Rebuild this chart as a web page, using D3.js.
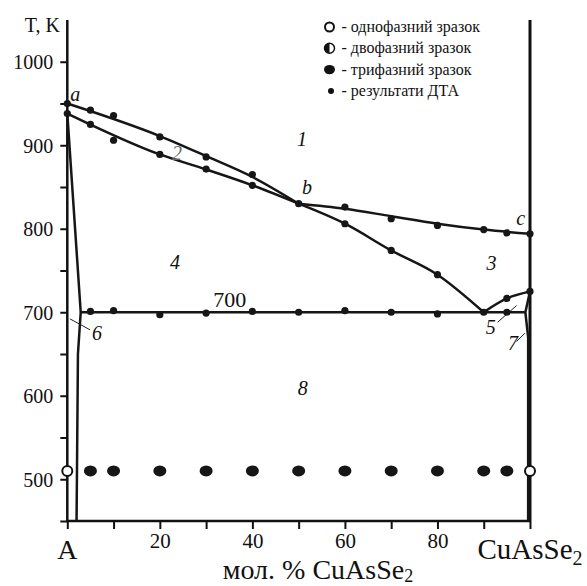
<!DOCTYPE html>
<html>
<head>
<meta charset="utf-8">
<script src="https://cdn.jsdelivr.net/npm/d3@7"></script>
<style>
  body { margin: 0; background: #fff; }
  svg text { font-family: 'Liberation Serif', 'Times New Roman', serif; fill: #111; }
  .axis .domain { display: none; }
  .axis line { stroke: #111; stroke-width: 2; }
</style>
</head>
<body>
<div class="graph"></div>
<script>
// values: [mol. % CuAsSe2, T (K)]
const liquidusAB = [[0, 950], [20, 911], [30, 887], [40, 862], [50, 830]];
const solidusAB = [[0, 938], [20, 889], [30, 871], [40, 852], [50, 830]];
const liquidusBC = [[50, 830], [60, 824], [70, 815], [80, 806], [90, 799], [100, 794]];
const liquidusBE = [[50, 830], [60, 806], [70, 774], [80, 745], [90, 700]];
const liquidusER = [[90, 700], [95, 716.5], [100, 725]];
const eutecticLine = [[2.9, 700], [98.9, 700]];
const solvusLeft = [[0, 938], [2.9, 700], [2.3, 650], [2.0, 450]];
const solvusRight = [[100, 725], [99, 700], [99.6, 670], [99.6, 450]];

const dtaPoints = [
  [0, 950], [5, 942], [10, 935.5], [20, 910], [30, 886], [40, 865],
  [0, 938], [5, 925], [10, 906], [20, 889], [30, 871.5], [40, 852],
  [50, 830], [60, 826], [70, 812], [80, 804], [90, 799], [95, 795], [100, 794],
  [60, 806], [70, 774], [80, 745],
  [95, 716.5], [100, 725],
  [5, 701], [10, 702], [20, 697], [30, 699], [40, 701], [50, 700],
  [60, 702], [70, 700], [80, 698], [90, 700], [95, 700]
];

const sampleT = 510;
const singlePhase = [0, 100];
const threePhase = [5, 10, 20, 30, 40, 50, 60, 70, 80, 90, 95];

const xTicks = d3.range(0, 101, 10);
const xTickLabels = { 20: '20', 40: '40', 60: '60', 80: '80' };
const yTicks = d3.range(450, 1001, 50);
const yTickLabels = [500, 600, 700, 800, 900, 1000];

const regionLabels = [
  { t: 'a', x: 1.7, y: 961 }, { t: 'b', x: 51.8, y: 850 }, { t: 'c', x: 98, y: 813 },
  { t: '1', x: 50.7, y: 908 }, { t: '2', x: 23.7, y: 891, grey: true }, { t: '3', x: 91.7, y: 759 },
  { t: '4', x: 23.3, y: 760 }, { t: '5', x: 91.5, y: 682 }, { t: '6', x: 6.4, y: 675 },
  { t: '7', x: 96.3, y: 663 }, { t: '8', x: 50.9, y: 609 }
];
const leaders = [
  [[0.6, 692], [4.9, 679]],
  [[97.1, 708], [93.0, 688]],
  [[98.9, 675], [97.1, 665]]
];

const legendData = [
  { kind: 'open', label: '- однофазний зразок' },
  { kind: 'half', label: '- двофазний зразок' },
  { kind: 'full', label: '- трифазний зразок' },
  { kind: 'dot', label: '- результати ДТА' }
];

const w = 587;
const h = 586;

const xScale = d3.scaleLinear().domain([0, 100]).range([67.3, 530]);
const yScale = d3.scaleLinear().domain([450, 1050]).range([521, 20]);

const svg = d3.select('.graph')
  .append('svg')
  .attr('width', w)
  .attr('height', h);

// axes
svg.append('g')
  .attr('class', 'axis')
  .attr('transform', `translate(0, ${yScale(450)})`)
  .call(d3.axisBottom(xScale).tickValues(xTicks).tickSize(8).tickSizeOuter(0)
    .tickFormat((d) => xTickLabels[d] || ''))
  .call((g) => g.selectAll('text').attr('dy', 0).attr('y', 27).style('font-size', '21px'));

svg.append('g')
  .attr('class', 'axis')
  .attr('transform', `translate(${xScale(0)}, 0)`)
  .call(d3.axisLeft(yScale).tickValues(yTicks).tickSize(7).tickSizeOuter(0)
    .tickFormat((d) => yTickLabels.includes(d) ? d : ''))
  .call((g) => g.selectAll('text').attr('x', -14).attr('dy', '0.34em').style('font-size', '20px'));

svg.append('line')
  .attr('x1', xScale(0)).attr('x2', xScale(0))
  .attr('y1', yScale(1050)).attr('y2', yScale(450))
  .attr('stroke', '#111').attr('stroke-width', 2.5);

svg.append('line')
  .attr('x1', xScale(0) - 1).attr('x2', xScale(100) + 1)
  .attr('y1', yScale(450)).attr('y2', yScale(450))
  .attr('stroke', '#111').attr('stroke-width', 2.5);

svg.append('line')
  .attr('x1', xScale(100)).attr('x2', xScale(100))
  .attr('y1', yScale(1050)).attr('y2', yScale(450))
  .attr('stroke', '#111').attr('stroke-width', 3);

// phase boundaries
const smooth = d3.line().x((d) => xScale(d[0])).y((d) => yScale(d[1])).curve(d3.curveMonotoneX);
const straight = d3.line().x((d) => xScale(d[0])).y((d) => yScale(d[1]));

[liquidusAB, solidusAB, liquidusBC, liquidusBE, liquidusER].forEach((d) => {
  svg.append('path')
    .attr('d', smooth(d))
    .attr('fill', 'none')
    .attr('stroke', '#161616')
    .attr('stroke-width', 2.5);
});

[eutecticLine, solvusLeft, solvusRight].forEach((d) => {
  svg.append('path')
    .attr('d', straight(d))
    .attr('fill', 'none')
    .attr('stroke', '#161616')
    .attr('stroke-width', 2.5)
    .attr('stroke-linejoin', 'round');
});

leaders.forEach((d) => {
  svg.append('path')
    .attr('d', straight(d))
    .attr('stroke', '#222')
    .attr('stroke-width', 1);
});

svg.selectAll('circle.dta')
  .data(dtaPoints)
  .enter()
  .append('circle')
  .attr('class', 'dta')
  .attr('cx', (d) => xScale(d[0]))
  .attr('cy', (d) => yScale(d[1]))
  .attr('r', 3.6)
  .attr('fill', '#161616');

// samples
svg.selectAll('ellipse.sample')
  .data(threePhase)
  .enter()
  .append('ellipse')
  .attr('class', 'sample')
  .attr('cx', (d) => xScale(d))
  .attr('cy', yScale(sampleT))
  .attr('rx', 6.5)
  .attr('ry', 5.5)
  .attr('fill', '#161616');

svg.selectAll('circle.single')
  .data(singlePhase)
  .enter()
  .append('circle')
  .attr('class', 'single')
  .attr('cx', (d) => xScale(d))
  .attr('cy', yScale(sampleT))
  .attr('r', 5)
  .attr('fill', '#fff')
  .attr('stroke', '#111')
  .attr('stroke-width', 2);

// labels
svg.selectAll('text.region')
  .data(regionLabels)
  .enter()
  .append('text')
  .attr('class', 'region')
  .attr('x', (d) => xScale(d.x))
  .attr('y', (d) => yScale(d.y))
  .attr('dy', '0.35em')
  .attr('text-anchor', 'middle')
  .style('font-style', 'italic')
  .style('font-size', '20px')
  .style('fill', (d) => d.grey ? '#666' : '#111')
  .text((d) => d.t);

svg.append('text')
  .attr('x', xScale(35.1))
  .attr('y', yScale(715))
  .attr('dy', '0.35em')
  .attr('text-anchor', 'middle')
  .style('font-size', '22px')
  .text('700');

svg.append('text')
  .attr('x', 60)
  .attr('y', 32)
  .attr('text-anchor', 'end')
  .style('font-size', '20px')
  .text('T, K');

svg.append('text')
  .attr('x', xScale(0))
  .attr('y', 559)
  .attr('text-anchor', 'middle')
  .style('font-size', '28px')
  .text('A');

const endLabel = svg.append('text')
  .attr('x', xScale(100))
  .attr('y', 559)
  .attr('text-anchor', 'middle')
  .style('font-size', '29px');
endLabel.append('tspan').text('CuAsSe');
endLabel.append('tspan').attr('dy', 6).style('font-size', '20px').text('2');

const title = svg.append('text')
  .attr('x', 318)
  .attr('y', 579)
  .attr('text-anchor', 'middle')
  .style('font-size', '28px');
title.append('tspan').text('мол. % CuAsSe');
title.append('tspan').attr('dy', 3).style('font-size', '18px').text('2');

// legend
const legend = svg.append('g')
  .attr('class', 'legend')
  .attr('transform', 'translate(329.5, 27)');

const rows = legend.selectAll('g')
  .data(legendData)
  .enter()
  .append('g')
  .attr('transform', (d, i) => `translate(0, ${i * 21.3})`);

rows.filter((d) => d.kind === 'open').append('circle')
  .attr('r', 4.5).attr('fill', '#fff').attr('stroke', '#111').attr('stroke-width', 2);
rows.filter((d) => d.kind === 'half').append('circle')
  .attr('r', 5).attr('fill', '#fff').attr('stroke', '#111').attr('stroke-width', 1.5);
rows.filter((d) => d.kind === 'half').append('path')
  .attr('d', 'M0,-5 A5,5 0 0,0 0,5 Z').attr('fill', '#111');
rows.filter((d) => d.kind === 'full').append('ellipse')
  .attr('rx', 5.5).attr('ry', 4.7).attr('fill', '#111');
rows.filter((d) => d.kind === 'dot').append('circle')
  .attr('cx', 1.5).attr('r', 3).attr('fill', '#111');

rows.append('text')
  .attr('x', 12)
  .attr('y', 5)
  .style('font-size', '16px')
  .text((d) => d.label);
</script>
</body>
</html>
